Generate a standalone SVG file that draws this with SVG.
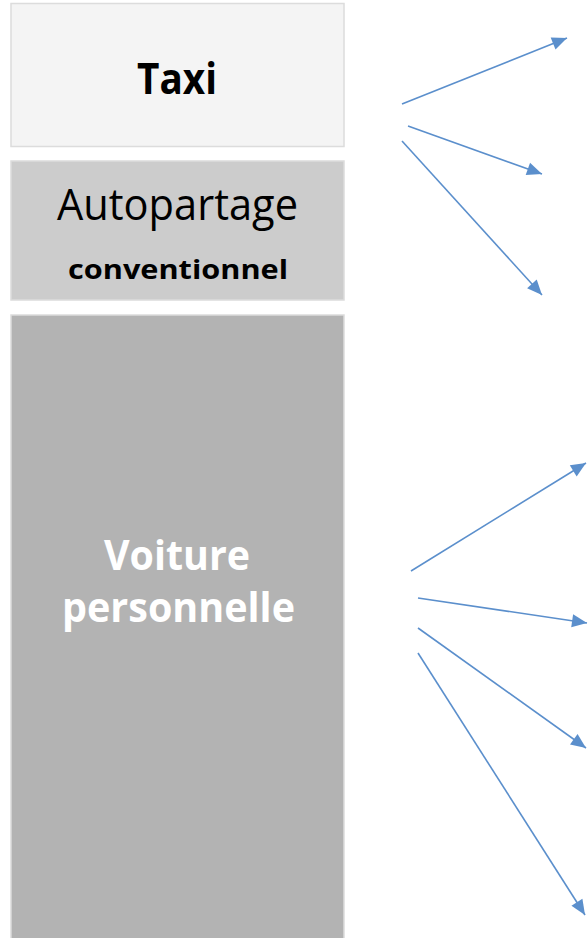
<svg xmlns="http://www.w3.org/2000/svg" width="588" height="938" viewBox="0 0 588 938">
<style>
.box{stroke:#dcdcdc;stroke-width:1.5}
.t{font-family:"Open Sans","Liberation Sans",sans-serif;text-anchor:middle}
.b{font-weight:bold}
.c{stroke:#5b8fcc;stroke-width:1.6;fill:none;marker-end:url(#ah)}
</style>
<defs>
<marker id="ah" markerUnits="userSpaceOnUse" markerWidth="18" markerHeight="16" viewBox="0 0 18 16" refX="16" refY="8" orient="auto">
<path d="M1,1.5 L16,8 L1,14.5 Z" fill="#5b8fcc"/>
</marker>
</defs>
<rect width="588" height="938" fill="#ffffff"/>
<g id="taxi">
<rect class="box" x="11" y="3.5" width="333" height="143" fill="#f4f4f4"/>
<text class="t b" x="177" y="94" font-size="43" fill="#000" textLength="80" lengthAdjust="spacingAndGlyphs">Taxi</text>
</g>
<g id="autopartage">
<rect class="box" x="11" y="161" width="333" height="139" fill="#cccccc"/>
<text class="t" x="177.5" y="220" font-size="43" fill="#000" textLength="241" lengthAdjust="spacingAndGlyphs">Autopartage</text>
<text class="t b" x="178" y="279" font-size="27" fill="#000" textLength="220" lengthAdjust="spacingAndGlyphs">conventionnel</text>
</g>
<g id="voiture">
<rect class="box" x="11" y="315" width="333" height="640" fill="#b3b3b3"/>
<text class="t b" x="177" y="570" font-size="41" fill="#ffffff" textLength="146" lengthAdjust="spacingAndGlyphs">Voiture</text>
<text class="t b" x="178.5" y="622" font-size="41" fill="#ffffff" textLength="233" lengthAdjust="spacingAndGlyphs">personnelle</text>
</g>
<g id="connectors">
<line class="c" x1="402" y1="104" x2="567" y2="38"/>
<line class="c" x1="408" y1="126" x2="542" y2="174"/>
<line class="c" x1="402" y1="141" x2="542" y2="295"/>
<line class="c" x1="411" y1="571" x2="586" y2="463"/>
<line class="c" x1="418" y1="598" x2="587" y2="623"/>
<line class="c" x1="418" y1="628" x2="586" y2="748"/>
<line class="c" x1="418" y1="653" x2="585" y2="915"/>
</g>
</svg>
